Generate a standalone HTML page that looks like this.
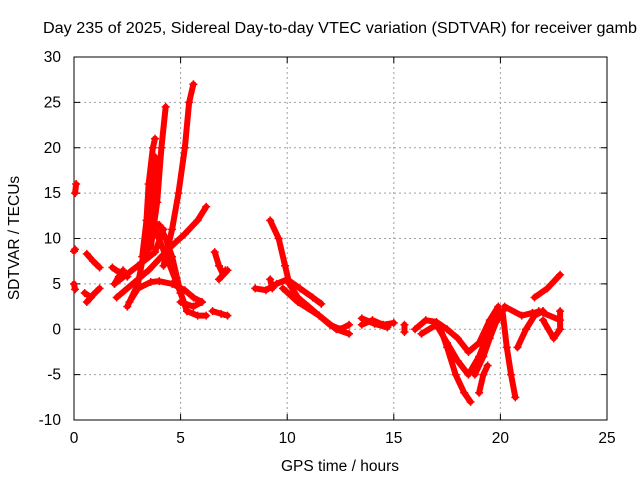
<!DOCTYPE html>
<html><head><meta charset="utf-8"><style>
body{margin:0;background:#fff;}
svg{display:block;font-family:"Liberation Sans",Arial,sans-serif;}
</style></head><body>
<svg id="chart" width="640" height="480" viewBox="0 0 640 480">
<text x="43" y="33" font-size="15.5" textLength="594" lengthAdjust="spacingAndGlyphs" fill="#000">Day 235 of 2025, Sidereal Day-to-day VTEC variation (SDTVAR) for receiver gamb</text>
<g id="grid"></g>
<g id="axes"></g>
<g id="series"></g>
<text x="340" y="471" font-size="15.5" text-anchor="middle">GPS time / hours</text>
<text transform="translate(19,238) rotate(-90)" font-size="15.5" text-anchor="middle">SDTVAR / TECUs</text>
</svg>
<script>
const xTicks=[0,5,10,15,20,25];
const yTicks=[-10,-5,0,5,10,15,20,25,30];
const segments=[
[[0.05,15],[0.1,16]],
[[0.0,8.6],[0.05,8.8]],
[[0.0,5.0],[0.05,4.4]],
[[0.6,8.3],[0.9,7.5],[1.2,6.8]],
[[0.6,3.0],[0.9,3.8],[1.2,4.5]],
[[0.5,4.0],[0.8,3.5]],
[[1.8,6.8],[2.1,6.3],[2.5,5.8]],
[[1.9,5.0],[2.1,5.8],[2.3,6.5]],
[[3.2,8],[3.4,12],[3.5,16],[3.7,20],[3.8,21]],
[[3.4,8],[3.6,12],[3.7,16],[3.8,19]],
[[3.6,9],[3.9,14],[4.1,20],[4.3,24.5]],
[[4.2,7],[4.6,11],[4.9,15],[5.2,20],[5.4,25],[5.6,27]],
[[2.5,2.5],[3.0,5],[3.4,10],[3.6,11.8],[4.0,11.5],[4.3,10],[4.6,8],[5.0,4],[5.3,2]],
[[2.0,3.5],[3.5,6.5],[4.5,9],[5.2,10.5],[5.8,12],[6.2,13.5]],
[[1.9,5],[3.0,7],[3.8,8.5],[4.2,11]],
[[2.6,3],[3.0,4.5],[3.6,5.2],[4.0,5.3],[4.6,5],[5.2,4.3],[5.6,3.5],[6.0,3]],
[[3.8,11],[4.5,7],[5.0,4],[5.3,2],[5.8,1.5],[6.2,1.5]],
[[5.0,3],[5.6,2.5],[6.0,3.0]],
[[6.6,8.5],[6.8,7],[7.0,6],[7.1,6.5]],
[[6.8,5.5],[7.2,6.5]],
[[6.5,2],[6.9,1.7],[7.2,1.5]],
[[9.2,12],[9.6,10],[9.9,7],[10.1,5],[10.5,3.5],[11.0,2.5],[11.5,1.5],[12.0,0.5],[12.5,0],[12.9,0.5]],
[[8.5,4.5],[9.0,4.3],[9.5,5],[10,5.5],[10.6,4.5],[11.2,3.5],[11.6,2.8]],
[[9.2,5.5],[9.3,4.5]],
[[9.8,4.5],[10.5,3],[11.5,1.5],[12.3,0],[12.9,-0.5]],
[[13.5,0.5],[14,1],[14.5,0.5],[15,0.7]],
[[13.5,1.2],[14.1,0.6],[14.7,0.2]],
[[15.5,0.5],[15.5,-0.3]],
[[16,0],[16.5,1],[17.0,0.8],[17.5,0],[18.0,-1],[18.5,-2.5],[19,-1.5],[19.5,1],[19.9,2.5]],
[[16.3,-0.5],[17,0.5],[17.5,-1.5],[18,-3.5],[18.5,-5],[19,-3],[19.5,0],[20,2]],
[[17.2,0],[17.5,-2],[17.9,-5],[18.3,-7],[18.6,-8]],
[[18.8,-5],[19.2,-3],[19.5,-1],[19.8,0.8],[20,1.5]],
[[19.0,-7],[19.2,-5],[19.4,-4]],
[[20.1,2],[20.3,-2],[20.5,-5],[20.7,-7.5]],
[[20.2,2.5],[21,1.5],[21.5,1.8],[22,2]],
[[20.8,-2],[21.2,0],[21.6,1.5],[22,2]],
[[21.6,3.5],[22.2,4.5],[22.8,6]],
[[22.0,1],[22.5,-1],[22.8,0],[22.8,2]],
[[21.8,2],[22.8,1]]
];
const NS="http://www.w3.org/2000/svg";
const L=74,R=607,T=57,B=420,xMin=0,xMax=25,yMin=-10,yMax=30;
function sx(v){return L+(v-xMin)/(xMax-xMin)*(R-L);}
function sy(v){return B-(v-yMin)/(yMax-yMin)*(B-T);}
function mk(tag,attrs,parent){const e=document.createElementNS(NS,tag);for(const k in attrs)e.setAttribute(k,attrs[k]);parent.appendChild(e);return e;}
const grid=document.getElementById('grid'),axes=document.getElementById('axes'),series=document.getElementById('series');
xTicks.forEach(t=>{
  const x=sx(t);
  if(t>xMin&&t<xMax){const g=mk('line',{x1:x,x2:x,y1:T,y2:B,stroke:'#a0a0a0','stroke-dasharray':'2,3'},grid);
  
  }
  mk('line',{x1:x,x2:x,y1:B,y2:B-6,stroke:'#000'},axes);
  mk('line',{x1:x,x2:x,y1:T,y2:T+6,stroke:'#000'},axes);
  const tx=mk('text',{x:x,y:B+23,'font-size':'15.5','text-anchor':'middle'},axes);tx.textContent=t;
  
  
});
yTicks.forEach(t=>{
  const y=sy(t);
  if(t>yMin&&t<yMax){const g=mk('line',{x1:L,x2:R,y1:y,y2:y,stroke:'#a0a0a0','stroke-dasharray':'2,3'},grid);
  
  }
  mk('line',{x1:L,x2:L+6,y1:y,y2:y,stroke:'#000'},axes);
  mk('line',{x1:R,x2:R-6,y1:y,y2:y,stroke:'#000'},axes);
  const tx=mk('text',{x:L-13,y:y+5,'font-size':'15.5','text-anchor':'end'},axes);tx.textContent=t;
  
  
});
const border=mk('rect',{x:L,y:T,width:R-L,height:B-T,fill:'none',stroke:'#000'},axes);


segments.forEach(seg=>{
  const pts=seg.map(p=>sx(p[0])+','+sy(p[1])).join(' ');
  const pl=mk('polyline',{points:pts,fill:'none',stroke:'#ff0000','stroke-width':'6','stroke-linejoin':'round','stroke-linecap':'round'},series);
  
  
  seg.forEach(p=>{
    const x=sx(p[0]),y=sy(p[1]);
    const m=mk('path',{d:`M${x-4},${y}H${x+4}M${x},${y-4}V${y+4}`,stroke:'#ff0000','stroke-width':'1.5'},series);
    
    
  });
});
</script>
</body></html>
